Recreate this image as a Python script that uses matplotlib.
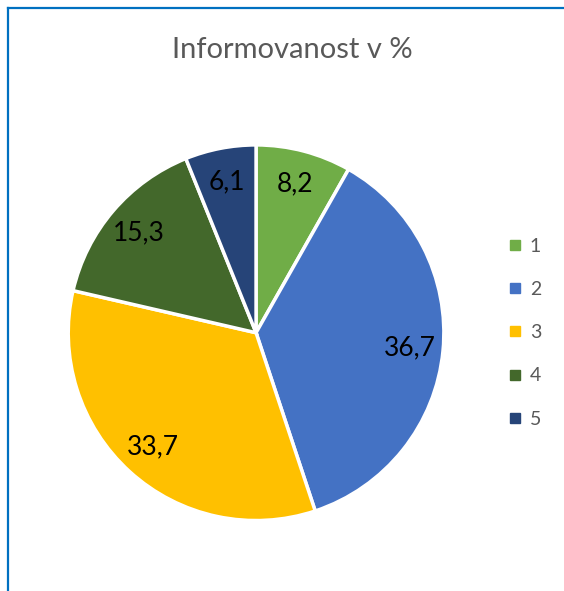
import matplotlib.pyplot as plt
from matplotlib.lines import Line2D

categories = ['1', '2', '3', '4', '5']
values = [8.2, 36.7, 33.7, 15.3, 6.1]
colours = ['#70AD47', '#4472C4', '#FFC000', '#43682B', '#264478']

plt.rcParams['font.family'] = ['Lato', 'DejaVu Sans']

fig = plt.figure(figsize=(5.64, 5.91), dpi=100)
ax = fig.add_axes([0.454 - 0.333, 0.437 - 0.318, 0.666, 0.636])

wedges, texts, autotexts = ax.pie(
    values, colors=colours, startangle=90, counterclock=False,
    autopct=lambda p: f"{p:.1f}".replace('.', ','), pctdistance=0.82,
    wedgeprops=dict(edgecolor='white', linewidth=2.5),
    textprops=dict(fontsize=19, color='black'))
ax.set_xlim(-1, 1)
ax.set_ylim(-1, 1)
ax.set_aspect('equal')

fig.text(292 / 564, 1 - 50 / 591, 'Informovanost v %', ha='center', va='center',
         fontsize=21, color='#595959')

handles = [Line2D([], [], marker='s', linestyle='none', markersize=6.5,
                  markerfacecolor=c, markeredgecolor=c) for c in colours]
fig.legend(handles, categories, loc='center left', bbox_to_anchor=(0.905, 0.437),
           frameon=False, fontsize=14, labelcolor='#595959', handlelength=0.5,
           handletextpad=0.5, labelspacing=1.35, borderaxespad=0, borderpad=0)

# chart border (only top and left edges visible in the crop)
fig.add_artist(Line2D([7.5 / 564, 1], [1 - 8 / 591, 1 - 8 / 591], color='#0070C0', lw=1.6))
fig.add_artist(Line2D([7.5 / 564, 7.5 / 564], [0, 1 - 8 / 591], color='#0070C0', lw=1.6))

fig.savefig('out.png', dpi=100)
